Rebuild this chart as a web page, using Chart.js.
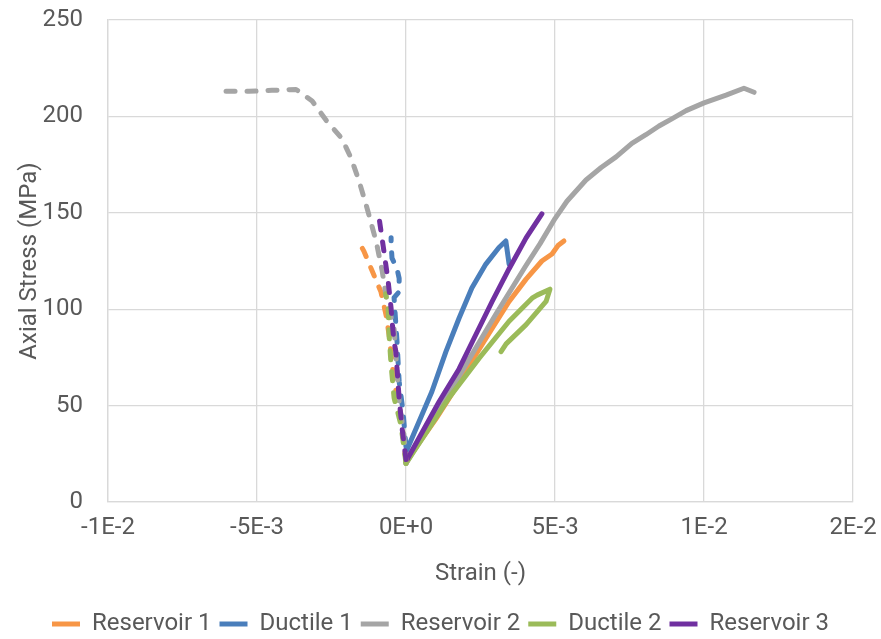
<!DOCTYPE html>
<html>
<head>
<meta charset="utf-8">
<script src="https://cdn.jsdelivr.net/npm/chart.js@4/dist/chart.umd.min.js"></script>
<style>
html,body{margin:0;padding:0;background:#fff;}
#wrap{width:881px;height:639px;position:relative;}
</style>
</head>
<body>
<div id="wrap"><canvas id="c"></canvas></div>
<script>
// ---- Data (strain in -, stress in MPa) ----
const seriesNames = ['Reservoir 1', 'Ductile 1', 'Reservoir 2', 'Ductile 2', 'Reservoir 3'];
const xTickLabels = ['-1E-2', '-5E-3', '0E+0', '5E-3', '1E-2', '2E-2'];
const xTickValues = [-0.01, -0.005, 0, 0.005, 0.01, 0.015];
const yTickValues = [0, 50, 100, 150, 200, 250];

// Reservoir 1
const res1AxialStrain = [0, 0.0005, 0.001, 0.00144, 0.0019, 0.00235, 0.00289, 0.00346, 0.00403, 0.00456, 0.0049, 0.0051, 0.0053];
const res1AxialStress = [21, 32, 43, 53.6, 65, 76.6, 90, 104, 115.6, 125, 128.6, 133, 135.4];
const res1LatStrain = [0, -0.0001, -0.0002, -0.0004, -0.00045, -0.0005, -0.00057, -0.00067, -0.00084, -0.00114, -0.00141, -0.00162];
const res1LatStress = [21, 35, 48, 62.5, 70, 77, 87, 97, 109, 120, 130, 136];

// Ductile 1
const duc1AxialStrain = [0.00003, 0.0005, 0.00087, 0.00134, 0.00178, 0.00221, 0.00268, 0.00312, 0.00335, 0.00346];
const duc1AxialStress = [27, 44, 57.3, 78, 95.3, 111, 123.4, 132, 135.4, 123.4];
const duc1LatStrain = [0, -0.0001, -0.00023, -0.0003, -0.00034, -0.00037, -0.0004, -0.00023, -0.00023, -0.0003, -0.00047, -0.0005, -0.0005];
const duc1LatStress = [28.6, 47, 62.5, 83, 92, 99, 106, 109, 116, 121, 126.5, 134, 137];

// Reservoir 2
const res2AxialStrain = [0, 0.001, 0.002, 0.003, 0.004, 0.0045, 0.005, 0.0054, 0.00604, 0.00655, 0.00705, 0.00758, 0.00805, 0.00849, 0.00895, 0.0094, 0.01, 0.01074, 0.01134, 0.01168];
const res2AxialStress = [20, 45, 71, 97, 122, 134, 147, 156, 167, 173.5, 179, 186, 190.5, 195, 199, 203, 207, 211, 214.6, 212.5];
const res2LatStrain = [0, -0.00007, -0.00023, -0.0004, -0.00064, -0.0008, -0.001, -0.00131, -0.00158, -0.00185, -0.00215, -0.00268, -0.00315, -0.00369, -0.0045, -0.00527, -0.00617];
const res2LatStress = [20, 35, 52, 90, 104, 120, 135, 152.6, 166.7, 178.6, 188.5, 198, 208, 214, 213.5, 213, 213];

// Ductile 2
const duc2AxialStrain = [0, 0.00144, 0.00245, 0.00346, 0.00423, 0.0044, 0.00483, 0.0047, 0.00403, 0.00336, 0.00319];
const duc2AxialStress = [20, 54, 74.5, 93.75, 105.7, 107.3, 110.4, 104, 92, 82, 78];
const duc2LatStrain = [0, -0.00017, -0.0004, -0.0005, -0.00057, -0.0006, -0.00068];
const duc2LatStress = [20, 40, 54, 71, 87, 100, 108];

// Reservoir 3
const res3AxialStrain = [0, 0.00111, 0.00178, 0.00235, 0.00289, 0.00346, 0.00403, 0.00456];
const res3AxialStress = [21, 52, 69, 87, 104, 121, 137, 149.5];
const res3LatStrain = [0, -0.00013, -0.00023, -0.00034, -0.0004, -0.00047, -0.0005, -0.0006, -0.00074, -0.00084, -0.0009];
const res3LatStress = [22, 38, 53.6, 78, 83, 94, 100.5, 114.6, 130, 140.6, 147];

// ---- Build ----
const colors = ['#F79646', '#4A7EBB', '#A5A5A5', '#9BBB59', '#7030A0'];
const axial = [
  [res1AxialStrain, res1AxialStress],
  [duc1AxialStrain, duc1AxialStress],
  [res2AxialStrain, res2AxialStress],
  [duc2AxialStrain, duc2AxialStress],
  [res3AxialStrain, res3AxialStress]
];
const lateral = [
  [res1LatStrain, res1LatStress],
  [duc1LatStrain, duc1LatStress],
  [res2LatStrain, res2LatStress],
  [duc2LatStrain, duc2LatStress],
  [res3LatStrain, res3LatStress]
];
const toPts = (xs, ys) => xs.map((x, i) => ({x: x, y: ys[i]}));

const datasets = [];
seriesNames.forEach((name, i) => {
  datasets.push({
    label: name,
    data: toPts(axial[i][0], axial[i][1]),
    borderColor: colors[i], backgroundColor: colors[i],
    borderWidth: 5, showLine: true, pointRadius: 0, tension: 0,
    borderCapStyle: 'round', borderJoinStyle: 'round',
    order: 20 - i
  });
});
seriesNames.forEach((name, i) => {
  datasets.push({
    label: name + ' (lateral)',
    data: toPts(lateral[i][0], lateral[i][1]),
    borderColor: colors[i], backgroundColor: colors[i],
    borderWidth: 5, showLine: true, pointRadius: 0, tension: 0,
    borderDash: [9, 12], borderCapStyle: 'round', borderJoinStyle: 'round',
    order: 10 - i
  });
});

const FONT = "Roboto, 'Liberation Sans', sans-serif";
Chart.defaults.font.family = FONT;
Chart.defaults.font.size = 24;
Chart.defaults.color = '#595959';

new Chart(document.getElementById('c'), {
  type: 'scatter',
  data: {datasets: datasets},
  options: {
    responsive: true,
    maintainAspectRatio: false,
    animation: false,
    layout: {padding: {left: 0, right: 0, top: 20, bottom: -7}},
    plugins: {
      tooltip: {enabled: false},
      legend: {
        position: 'bottom',
        labels: {
          filter: (item) => item.datasetIndex < 5,
          sort: (a, b) => a.datasetIndex - b.datasetIndex,
          usePointStyle: true,
          pointStyle: 'line',
          pointStyleWidth: 28,
          padding: 8,
          color: '#595959',
          font: {size: 24}
        }
      }
    },
    scales: {
      x: {
        type: 'linear',
        min: -0.01, max: 0.015,
        afterBuildTicks: (s) => { s.ticks = xTickValues.map(v => ({value: v})); },
        afterFit: (s) => { s.height = 102; s.paddingLeft = 0; s.paddingRight = 28; },
        ticks: {
          padding: 12,
          maxRotation: 0,
          callback: (v, i) => xTickLabels[i]
        },
        grid: {color: '#D9D9D9', lineWidth: 1.3, drawTicks: false},
        border: {color: '#D9D9D9', width: 1.3},
        title: {display: true, text: 'Strain (-)', padding: {top: 0, bottom: 16}, font: {size: 24}}
      },
      y: {
        type: 'linear',
        min: 0, max: 250,
        afterBuildTicks: (s) => { s.ticks = yTickValues.map(v => ({value: v})); },
        afterFit: (s) => { s.width = 108; s.paddingTop = 0; s.paddingBottom = 0; },
        ticks: {padding: 25},
        grid: {color: '#D9D9D9', lineWidth: 1.3, drawTicks: false},
        border: {color: '#D9D9D9', width: 1.3},
        title: {display: true, text: 'Axial Stress (MPa)', padding: {top: 16, bottom: 0}, font: {size: 24}}
      }
    }
  }
});
</script>
</body>
</html>
